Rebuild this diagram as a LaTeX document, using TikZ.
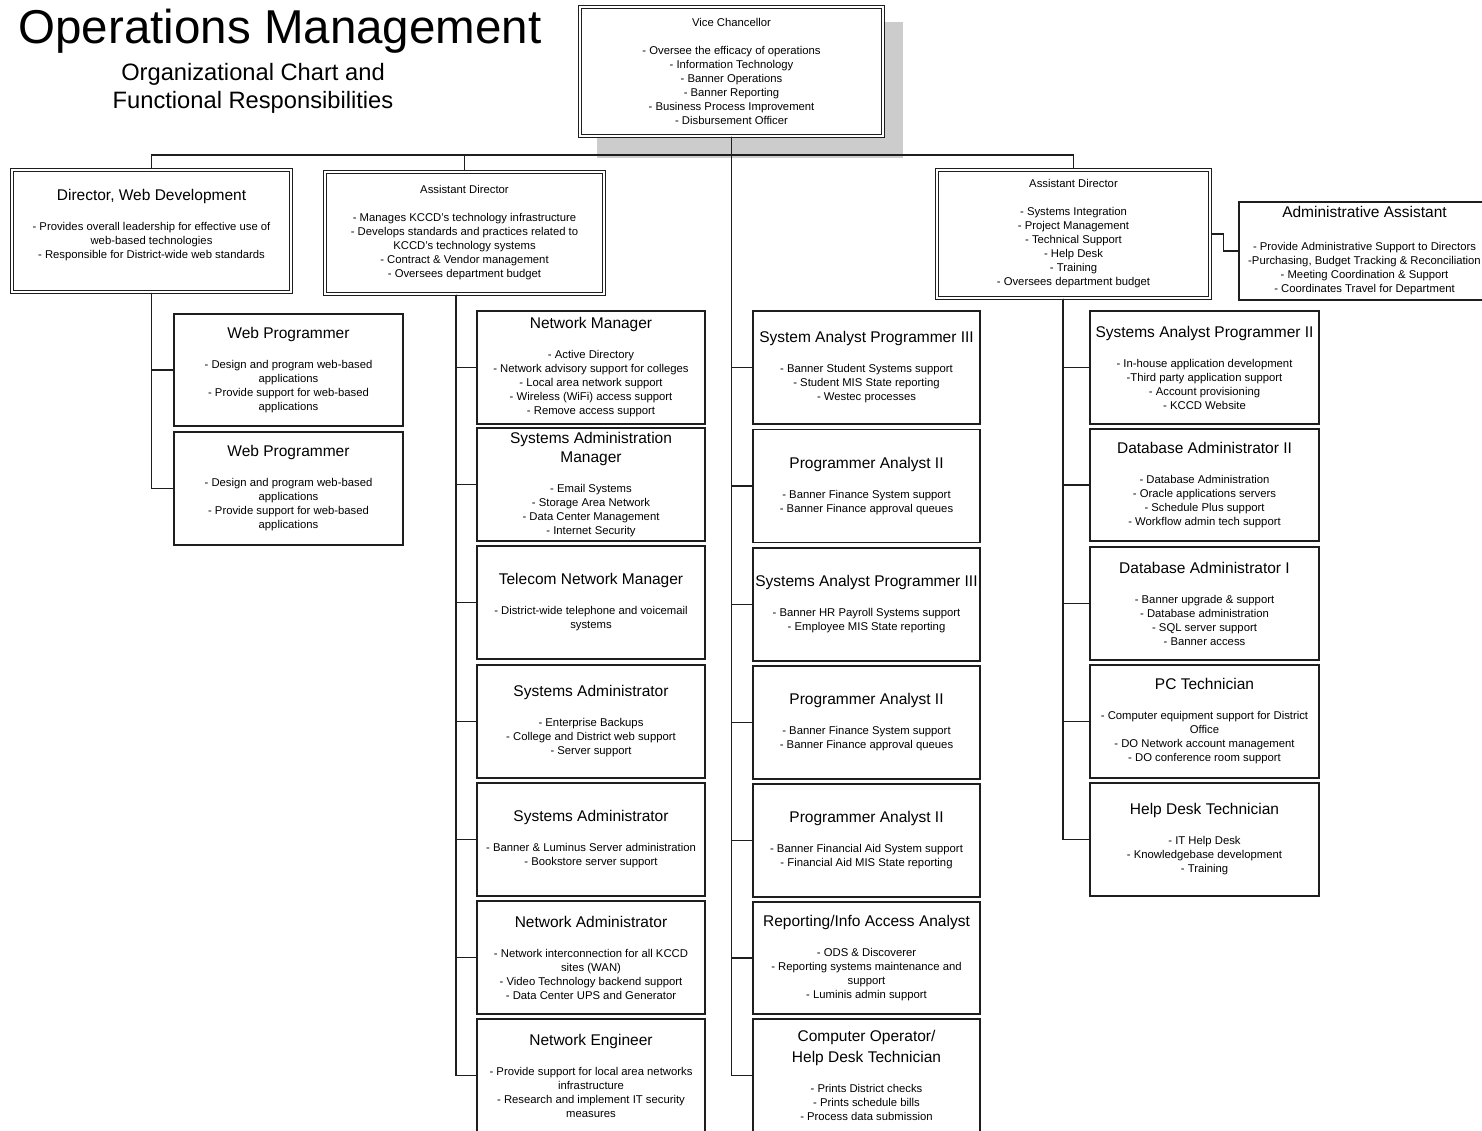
\documentclass[tikz,border=0pt]{standalone}
\usepackage{fontspec}
\setmainfont{Liberation Sans}
\newcommand{\jtitle}{\fontsize{15.5}{19}\selectfont}
\newcommand{\jbody}{\fontsize{11.3}{14}\selectfont}
\definecolor{shadowgray}{RGB}{204,204,204}
\definecolor{linegray}{RGB}{30,30,30}

\begin{document}
\begin{tikzpicture}[x=1pt,y=-1pt,
    jobbox/.style={draw=linegray, line width=1.8pt, fill=white, minimum width=229, minimum height=113, inner sep=1pt, align=center, font=\jbody},
    headbox/.style={jobbox, double=white, double distance=1.6pt, line width=1.1pt},
    link/.style={draw=linegray, line width=1.8pt}]
                        \useasboundingbox (0,0) rectangle (1482,1130);
                        \fill[white] (0,0) rectangle (1482,1130);
                        \clip (0,0) rectangle (1482,1130);

                        % Heading of the chart
                        \node (heading) [anchor=base, font=\fontsize{47.5}{56}\selectfont] at (280,43) { Operations Management };%
                        \node (subheading) [align=center, font=\fontsize{23.7}{28}\selectfont] at (253,88) { Organizational Chart and\\ Functional Responsibilities };%

                        % Shadow behind Vice Chancellor box
                        \fill[shadowgray] (597,22) rectangle (903,158);%

                        % Box Vice Chancellor
                        \node[headbox, minimum width=303, minimum height=129] (vc) at (731.5,71.5) { Vice Chancellor\\[14pt] - Oversee the efficacy of operations\\ - Information Technology\\ - Banner Operations\\ - Banner Reporting\\ - Business Process Improvement\\ - Disbursement Officer };%

                        % Box Director, Web Development
                        \node[headbox, minimum width=279, minimum height=122] (dwd) at (151.5,231) { {\jtitle Director, Web Development}\\[16pt] - Provides overall leadership for effective use of\\ web-based technologies\\ - Responsible for District-wide web standards\\ \mbox{} };%

                        % Box Assistant Director (left)
                        \node[headbox, minimum width=279, minimum height=122] (adl) at (464.5,233) { Assistant Director\\[14pt] - Manages KCCD's technology infrastructure\\ - Develops standards and practices related to\\ KCCD's technology systems\\ - Contract \& Vendor management\\ - Oversees department budget };%

                        % Box Assistant Director (right)
                        \node[headbox, minimum width=273, minimum height=128] (adr) at (1073.5,234) { Assistant Director\\[14pt] - Systems Integration\\ - Project Management\\ - Technical Support\\ - Help Desk\\ - Training\\ - Oversees department budget };%

                        % Box Administrative Assistant
                        \node[jobbox, minimum width=251, minimum height=98] (aa) at (1364.5,251) { {\jtitle Administrative Assistant}\\[19pt] - Provide Administrative Support to Directors\\ -Purchasing, Budget Tracking \& Reconciliation\\ - Meeting Coordination \& Support\\ - Coordinates Travel for Department };%

                        % Foot points of the spines
                        \coordinate (vcfoot) at (vc.south);%
                        \coordinate (adlfoot) at ([xshift=-8.5]adl.south);%
                        \coordinate (adrfoot) at ([xshift=-10.5]adr.south);%
                        \coordinate (bar) at (732,155);%

                        % Boxes under Director, Web Development
                        \node[jobbox, minimum height=112] (wpa) at (288.5,370) { {\jtitle Web Programmer}\\[16pt] - Design and program web-based\\ applications\\ - Provide support for web-based\\ applications };%
                        \node[jobbox] (wpb) at (288.5,488.5) { {\jtitle Web Programmer}\\[16pt] - Design and program web-based\\ applications\\ - Provide support for web-based\\ applications };%

                        % Boxes under Assistant Director (left)
                        \node[jobbox, minimum width=228] (nm) at (591,367.5) { {\jtitle Network Manager}\\[16pt] - Active Directory\\ - Network advisory support for colleges\\ - Local area network support\\ - Wireless (WiFi) access support\\ - Remove access support };%
                        \node[jobbox, minimum width=228] (sam) at (591,484.5) { {\jtitle Systems Administration}\\[5pt] {\jtitle Manager}\\[16pt] - Email Systems\\ - Storage Area Network\\ - Data Center Management\\ - Internet Security };%
                        \node[jobbox, minimum width=228] (tnm) at (591,602.5) { {\jtitle Telecom Network Manager}\\[16pt] - District-wide telephone and voicemail\\ systems };%
                        \node[jobbox, minimum width=228] (saa) at (591,721.5) { {\jtitle Systems Administrator}\\[16pt] - Enterprise Backups\\ - College and District web support\\ - Server support };%
                        \node[jobbox, minimum width=228] (sab) at (591,839.5) { {\jtitle Systems Administrator}\\[16pt] - Banner \& Luminus Server administration\\ - Bookstore server support };%
                        \node[jobbox, minimum width=228] (na) at (591,957.5) { {\jtitle Network Administrator}\\[16pt] - Network interconnection for all KCCD\\ sites (WAN)\\ - Video Technology backend support\\ - Data Center UPS and Generator };%
                        \node[jobbox, minimum width=228] (ne) at (591,1075.5) { {\jtitle Network Engineer}\\[16pt] - Provide support for local area networks\\ infrastructure\\ - Research and implement IT security\\ measures };%

                        % Boxes under Vice Chancellor
                        \node[jobbox, minimum width=227] (sapa) at (866.5,367.5) { {\jtitle System Analyst Programmer III}\\[16pt] - Banner Student Systems support\\ - Student MIS State reporting\\ - Westec processes };%
                        \node[jobbox, minimum width=227] (paa) at (866.5,486) { {\jtitle Programmer Analyst II}\\[16pt] - Banner Finance System support\\ - Banner Finance approval queues };%
                        \node[jobbox, minimum width=227] (sapb) at (866.5,604.5) { {\jtitle Systems Analyst Programmer III}\\[16pt] - Banner HR Payroll Systems support\\ - Employee MIS State reporting };%
                        \node[jobbox, minimum width=227] (pab) at (866.5,722.5) { {\jtitle Programmer Analyst II}\\[16pt] - Banner Finance System support\\ - Banner Finance approval queues };%
                        \node[jobbox, minimum width=227] (pac) at (866.5,840.5) { {\jtitle Programmer Analyst II}\\[16pt] - Banner Financial Aid System support\\ - Financial Aid MIS State reporting };%
                        \node[jobbox, minimum width=227, minimum height=112] (ria) at (866.5,958) { {\jtitle Reporting/Info Access Analyst}\\[16pt] - ODS \& Discoverer\\ - Reporting systems maintenance and\\ support\\ - Luminis admin support };%
                        \node[jobbox, minimum width=227] (coh) at (866.5,1075.5) { {\jtitle Computer Operator/}\\[5pt] {\jtitle Help Desk Technician}\\[16pt] - Prints District checks\\ - Prints schedule bills\\ - Process data submission };%

                        % Boxes under Assistant Director (right)
                        \node[jobbox] (sapc) at (1204.5,367.5) { {\jtitle Systems Analyst Programmer II}\\[16pt] - In-house application development\\ -Third party application support\\ - Account provisioning\\ - KCCD Website };%
                        \node[jobbox, minimum height=112] (dbb) at (1204.5,485) { {\jtitle Database Administrator II}\\[16pt] - Database Administration\\ - Oracle applications servers\\ - Schedule Plus support\\ - Workflow admin tech support };%
                        \node[jobbox] (dba) at (1204.5,603.5) { {\jtitle Database Administrator I}\\[16pt] - Banner upgrade \& support\\ - Database administration\\ - SQL server support\\ - Banner access };%
                        \node[jobbox] (pct) at (1204.5,721.5) { {\jtitle PC Technician}\\[16pt] - Computer equipment support for District\\ Office\\ - DO Network account management\\ - DO conference room support };%
                        \node[jobbox] (hdt) at (1204.5,839.5) { {\jtitle Help Desk Technician}\\[16pt] - IT Help Desk\\ - Knowledgebase development\\ - Training };%

                        % Drawing top bar and drops
                        \draw[link] (dwd.north) -- (dwd.north |- bar) -- (adr.north |- bar) -- (adr.north);%
                        \draw[link] (adl.north |- bar) -- (adl.north);%
                        \draw[link] (vcfoot) -- (vcfoot |- coh.west) -- (coh.west);%

                        % Drawing line Assistant Director -- Administrative Assistant
                        \draw[link] (adr.east) -- ++(13,0) |- (aa.west);%

                        % Drawing lines Director, Web Development -- Web Programmers
                        \draw[link] (dwd.south) |- (wpa.west);%
                        \draw[link] (dwd.south) |- (wpb.west);%

                        % Drawing lines Assistant Director (left) -- staff
                        \draw[link] (adlfoot) |- (nm.west);%
                        \draw[link] (adlfoot) |- (sam.west);%
                        \draw[link] (adlfoot) |- (tnm.west);%
                        \draw[link] (adlfoot) |- (saa.west);%
                        \draw[link] (adlfoot) |- (sab.west);%
                        \draw[link] (adlfoot) |- (na.west);%
                        \draw[link] (adlfoot) |- (ne.west);%

                        % Drawing lines Vice Chancellor -- staff
                        \draw[link] (vcfoot) |- (sapa.west);%
                        \draw[link] (vcfoot) |- (paa.west);%
                        \draw[link] (vcfoot) |- (sapb.west);%
                        \draw[link] (vcfoot) |- (pab.west);%
                        \draw[link] (vcfoot) |- (pac.west);%
                        \draw[link] (vcfoot) |- (ria.west);%

                        % Drawing lines Assistant Director (right) -- staff
                        \draw[link] (adrfoot) |- (sapc.west);%
                        \draw[link] (adrfoot) |- (dbb.west);%
                        \draw[link] (adrfoot) |- (dba.west);%
                        \draw[link] (adrfoot) |- (pct.west);%
                        \draw[link] (adrfoot) |- (hdt.west);%
\end{tikzpicture}
\end{document}
